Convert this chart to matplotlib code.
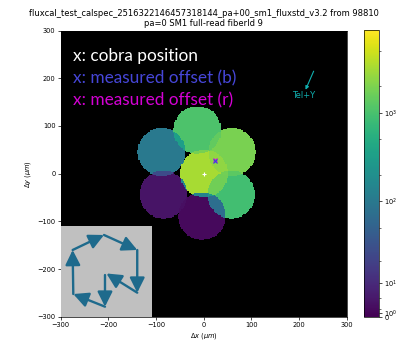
import numpy as np
import matplotlib.pyplot as plt
from matplotlib.colors import AsinhNorm

# fiber patches: centre offsets (um) and measured flux
fib_dx = [0, -14, 59, -89, -85, -4, 57]
fib_dy = [0, 91, 45, 45, -44, -89, -44]
fib_flux = [3200, 1050, 1900, 100, 4, 2, 900]
fib_rad = 50

# cobra position and measured offsets
cobra = (0, 0)
off_b = (24, 27)
off_r = (24, 29)

# dither path drawn in the inset (inset axes fraction)
path_x = [0.484, 0.484, 0.138, 0.131, 0.473, 0.836, 0.836, 0.500]
path_y = [0.458, 0.110, 0.249, 0.733, 0.898, 0.733, 0.264, 0.475]

title = ("fluxcal_test_calspec_2516322146457318144_pa+00_sm1_fluxstd_v3.2 from 98810\n"
         "pa=0 SM1 full-read fiberId 9")

# rasterise the patches, overlaps averaged in asinh space
step = 2.5
g = np.arange(-300 + step / 2, 300, step)
X, Y = np.meshgrid(g, g)
acc = np.zeros_like(X)
cnt = np.zeros_like(X)
for x0, y0, f in zip(fib_dx, fib_dy, fib_flux):
    m = (X - x0) ** 2 + (Y - y0) ** 2 <= fib_rad ** 2
    acc[m] += np.arcsinh(f / 10)
    cnt[m] += 1
img = np.full_like(X, np.nan)
img[cnt > 0] = 10 * np.sinh(acc[cnt > 0] / cnt[cnt > 0])

plt.rcParams['font.size'] = 4.8
fig = plt.figure(figsize=(3.99, 3.44), dpi=100)
ax = fig.add_axes([0.152, 0.0794, 0.7165, 0.8315])
cax = fig.add_axes([0.912, 0.0794, 0.0376, 0.8325])

cmap = plt.get_cmap('viridis').copy()
cmap.set_bad('black')
norm = AsinhNorm(linear_width=10, vmin=0, vmax=8500)
im = ax.imshow(img, origin='lower', extent=(-300, 300, -300, 300),
               cmap=cmap, norm=norm, interpolation='nearest', aspect='auto')
ax.set_facecolor('black')

ax.plot(*cobra, '+', color='white', ms=3, mew=0.8)
ax.plot(*off_r, 'x', color='#e000e0', ms=3, mew=0.8)
ax.plot(*off_b, 'x', color='#4040e0', ms=3, mew=0.8)

ax.set_xlim(-300, 300)
ax.set_ylim(-300, 300)
ax.set_xticks(range(-300, 301, 100))
ax.set_yticks(range(-300, 301, 100))
ax.tick_params(length=2.2, width=0.5, pad=1.5)
ax.set_xlabel(r'$\Delta x$ ($\mu m$)', labelpad=2)
ax.set_ylabel(r'$\Delta y$ ($\mu m$)', labelpad=3)
ax.set_title(title, fontsize=6, pad=3)
for s in ax.spines.values():
    s.set_linewidth(0.5)

# legend text
lab = dict(transform=ax.transAxes, fontsize=12.4, family='Lato', va='center')
ax.text(0.044, 0.9125, 'x: cobra position', color='white', **lab)
ax.text(0.044, 0.834, 'x: measured offset (b)', color='#4646d8', **lab)
ax.text(0.044, 0.756, 'x: measured offset (r)', color='#d400d4', **lab)

# telescope +Y direction
ax.annotate('', xy=(214, 176), xytext=(231, 215),
            arrowprops=dict(arrowstyle='-|>', color='#10b0b0', lw=0.8,
                            mutation_scale=5, shrinkA=0, shrinkB=0))
ax.text(210, 164, 'Tel+Y', color='#10b0b0', fontsize=6, ha='center', va='center')

# inset with the dither pattern
ins = fig.add_axes([0.152, 0.0794, 0.2296, 0.2645])
ins.set_facecolor('#c0c0c0')
ins.set_xlim(0, 1)
ins.set_ylim(0, 1)
ins.set_xticks([])
ins.set_yticks([])
for s in ins.spines.values():
    s.set_visible(False)
for i in range(len(path_x) - 1):
    ins.annotate('', xy=(path_x[i + 1], path_y[i + 1]), xytext=(path_x[i], path_y[i]),
                 arrowprops=dict(arrowstyle='-|>,head_length=0.9,head_width=0.45',
                                 color='#1e6a8c', lw=1.7, mutation_scale=10,
                                 shrinkA=0, shrinkB=0))

cb = fig.colorbar(im, cax=cax)
cb.outline.set_linewidth(0.5)
cax.tick_params(length=2, width=0.5, pad=1.5)
cax.tick_params(which='minor', length=1.2, width=0.4)

fig.savefig('out.png', dpi=100)
